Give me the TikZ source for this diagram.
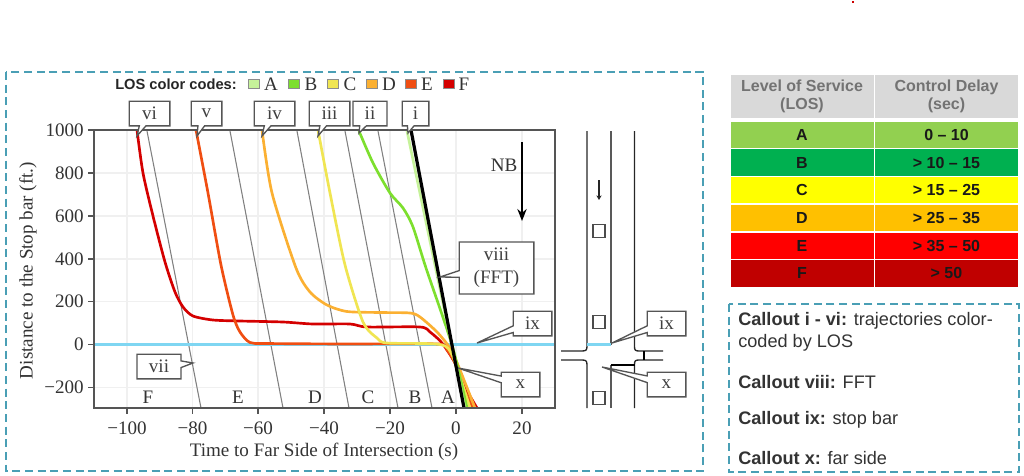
\documentclass[tikz,border=0pt]{standalone}
\usepackage{fontspec}
\usepackage{xcolor}
\setmainfont{Liberation Serif}
\setsansfont{Liberation Sans}
\usetikzlibrary{shapes.callouts,arrows.meta}

\definecolor{frameblue}{HTML}{4A9FB5}
\definecolor{stopblue}{HTML}{7FD6F2}
\definecolor{axisgray}{HTML}{555555}
\definecolor{losA}{HTML}{C6F29A}
\definecolor{losB}{HTML}{7DDF2E}
\definecolor{losC}{HTML}{F0E552}
\definecolor{losD}{HTML}{FBB032}
\definecolor{losE}{HTML}{F04E12}
\definecolor{losF}{HTML}{D40000}

\tikzset{
  framebox/.style={draw=frameblue,line width=1.2pt,dash pattern=on 6pt off 3.5pt},
  calloutbox/.style={rectangle callout,draw=axisgray,fill=white,line width=1pt,inner sep=0pt,
    text=black!75,font=\fontsize{14.3}{17}\selectfont,align=center,callout pointer width=5pt},
  smallbox/.style={calloutbox,minimum height=18.5pt},
  traj/.style={line width=2pt,line join=round},
  zonelabel/.style={text=black!80,font=\fontsize{14.3}{17}\selectfont},
  ticklabel/.style={text=black!80,font=\fontsize{14.3}{17}\selectfont},
  swatch/.style={draw=black!45,line width=0.7pt,minimum width=8.2pt,minimum height=6.8pt,inner sep=0pt},
  cellbox/.style={draw=white,line width=0.6pt,inner sep=0pt,font=\sffamily\bfseries\fontsize{12}{14}\selectfont,
    minimum height=20.8pt,text=black!90,align=center},
  notetext/.style={anchor=west,inner sep=0pt,font=\sffamily\fontsize{13.6}{16}\selectfont,text=black!80},
  roadline/.style={black!85,line width=1pt},
}

\begin{document}
\begin{tikzpicture}[x=0.75pt,y=-0.75pt]
\useasboundingbox (0,0) rectangle (1024,475);
\fill[red!80!black] (851.5,0.5) rectangle (853.5,3);

% dashed frames
\draw[framebox] (6,72) rectangle (703,471);
\draw[framebox] (729,304) rectangle (1019,472);

% grid
\foreach \x in {127,192.5,258,324,390,456,522}
  \draw[black!6,line width=0.8pt] (\x,130) -- (\x,408);
\foreach \y in {173,216,259,301.7,344.5,387.5}
  \draw[black!6,line width=0.8pt] (94,\y) -- (555,\y);

% zone boundaries
\draw[black!50,line width=0.8pt] (147,131) -- (201,408);
\draw[black!50,line width=0.8pt] (230,131) -- (283,408);
\draw[black!50,line width=0.8pt] (297,131) -- (349,408);
\draw[black!50,line width=0.8pt] (345,131) -- (398,408);
\draw[black!50,line width=0.8pt] (378,131) -- (432,408);

% stop bar in plot
\draw[stopblue,line width=2pt] (94,344.5) -- (555,344.5);

% trajectories
\draw[traj,losF] plot[smooth,tension=0.45] coordinates {(137,130) (143,173) (153,216) (165,262) (175,292) (183,307) (193,316) (213,320) (240,321) (283,322) (313,324) (350,324) (367,327) (420,327) (430,332) (442,343) (455,363) (465,387) (477,408)};
\draw[traj,losE] plot[smooth,tension=0.45] coordinates {(196,130) (208,193) (221,265) (233,315) (240,332) (250,342.5) (267,343.5) (350,344) (438,344) (447,350) (455,363) (463,387) (473,408)};
\draw[traj,losD] plot[smooth,tension=0.45] coordinates {(262,130) (272,193) (296,268) (310,292) (327,305) (347,311.5) (380,312.5) (410,313) (420,317) (437,332) (450,348) (458,365) (475,408)};
\draw[traj,losC] plot[smooth,tension=0.45] coordinates {(318,130) (330,193) (345,265) (363,322) (377,338) (387,343) (440,344.5) (453,357) (470,408)};
\draw[traj,losB] plot[smooth,tension=0.45] coordinates {(359,131) (373,163) (390,193) (403,208) (413,227) (426,268) (452,345) (467,408)};
\draw[traj,losA] (407,131) -- (436,270) -- (465,408);
\draw[black,line width=2.4pt] (411,130) -- (464,408);

% axes
\draw[axisgray,line width=1.2pt] (94,130) rectangle (555,408);
\foreach \x/\t in {127/−100,192.5/−80,258/−60,324/−40,390/−20,456/0,522/20} {
  \draw[axisgray,line width=1pt] (\x,408) -- (\x,414);
  \node[ticklabel] (xt\x) at (\x,428) {\t};
}
\foreach \y/\t in {130/1000,173/800,216/600,259/400,301.7/200,344.5/0,387.5/−200} {
  \draw[axisgray,line width=1pt] (88,\y) -- (94,\y);
  \node[ticklabel,anchor=east,inner sep=0pt] (yt\y) at (84,\y) {\t};
}
\node[ticklabel] (xlabel) at (324,452) {Time to Far Side of Intersection (s)};
\node[ticklabel,rotate=90] (ylabel) at (28,270.5) {Distance to the Stop bar (ft.)};

% zones
\node[zonelabel] (zoneF) at (148,397) {F};
\node[zonelabel] (zoneE) at (238,397) {E};
\node[zonelabel] (zoneD) at (315,397) {D};
\node[zonelabel] (zoneC) at (368,397) {C};
\node[zonelabel] (zoneB) at (415,397) {B};
\node[zonelabel] (zoneA) at (448,397) {A};

% direction
\node[ticklabel] (nb) at (504,165) {NB};
\draw[-{Stealth[length=9pt,width=7pt]},black,line width=1.2pt] (522,142) -- (522,221);

% legend
\node[anchor=west,inner sep=0pt,font=\sffamily\bfseries\fontsize{11}{13}\selectfont,text=black!85] (legend) at (115,84) {LOS color codes:};
\foreach \c/\sx/\tx/\t in {losA/253.5/271/A,losB/294/311/B,losC/333/350/C,losD/371.5/389/D,losE/410.5/427/E,losF/449/464/F} {
  \node[swatch,fill=\c] (sw\t) at (\sx,84) {};
  \node[ticklabel] (lg\t) at (\tx,84) {\t};
}

% road sketch
\draw[roadline] (587,131) -- (587,346) .. controls (587,350) and (586,351) .. (582,351) -- (561,351);
\draw[roadline] (561,360) -- (582,360) .. controls (586,360) and (587,361) .. (587,365) -- (587,408);
\draw[black!65,line width=0.9pt] (611,131) -- (611,344.5);
\draw[black!65,line width=0.9pt] (611,365) -- (611,408);
\draw[roadline] (634.5,131) -- (634.5,346) .. controls (634.5,350) and (635,351) .. (639,351) -- (663,351);
\draw[roadline] (663,360) -- (639,360) .. controls (635,360) and (634.5,361) .. (634.5,365) -- (634.5,408);
\draw[black,line width=1.3pt] (611,365) -- (634.5,365);
\draw[black,line width=1.5pt] (644,351) -- (644,360);
\draw[stopblue,line width=2pt] (587,344.5) -- (611,344.5);
\draw[-{Stealth[length=3.5pt,width=4pt]},black!85,line width=0.9pt] (599,180) -- (599,200);
\foreach \y in {231,322,398}
  \draw[black!70,line width=0.8pt] (593,\y-6.5) rectangle (605,\y+6.5);

% callouts
\node[smallbox,minimum width=30.5pt,callout absolute pointer={(137,136)}] (callvi) at (149.5,113.5) {vi};
\node[smallbox,minimum width=23pt,callout absolute pointer={(197,136)}] (callv) at (206.5,113.5) {v};
\node[smallbox,minimum width=30.5pt,callout absolute pointer={(262,136)}] (calliv) at (274.5,113.5) {iv};
\node[smallbox,minimum width=30.5pt,callout absolute pointer={(318,136)}] (calliii) at (329.5,113.5) {iii};
\node[smallbox,minimum width=25.5pt,callout absolute pointer={(359,133)}] (callii) at (370,113.5) {ii};
\node[smallbox,minimum width=20pt,callout absolute pointer={(408,133)}] (calli) at (415.5,113.5) {i};
\node[smallbox,minimum width=33pt,callout absolute pointer={(193,363)}] (callvii) at (159,366.5) {vii};
\node[calloutbox,minimum width=56pt,minimum height=39pt,callout absolute pointer={(440,277)}] (callviii) at (496.5,268) {viii\\(FFT)};
\node[smallbox,minimum width=29pt,callout absolute pointer={(477,343)}] (callix) at (532.5,323.5) {ix};
\node[smallbox,minimum width=29pt,callout absolute pointer={(458,368)}] (callx) at (520.5,384.5) {x};
\node[smallbox,minimum width=29pt,callout absolute pointer={(612,343)}] (roadix) at (666.5,323.5) {ix};
\node[smallbox,minimum width=29pt,callout absolute pointer={(602,367)}] (roadx) at (666.5,384.5) {x};

% LOS table
\node[cellbox,fill=black!15,minimum width=108pt,minimum height=33.5pt,text=black!55] (headlos) at (802,96.5) {Level of Service\\(LOS)};
\node[cellbox,fill=black!15,minimum width=108.5pt,minimum height=33.5pt,text=black!55] (headdelay) at (946.5,96.5) {Control Delay\\(sec)};
\foreach \y/\c/\l/\d in {135.2/92D050/A/0 – 10,162.5/00B050/B/> 10 – 15,190/FFFF00/C/> 15 – 25,218/FFC000/D/> 25 – 35,245.8/FF0000/E/> 35 – 50,273.2/C00000/F/> 50} {
  \definecolor{rowcol}{HTML}{\c}
  \node[cellbox,fill=rowcol,minimum width=108pt] (row\l) at (802,\y) {\l};
  \node[cellbox,fill=rowcol,minimum width=108.5pt] (delay\l) at (946.5,\y) {\d};
}

% notes
\node[notetext] (note1) at (738,320.5) {\textbf{Callout i - vi:} trajectories color-};
\node[notetext] (note2) at (738,343) {coded by LOS};
\node[notetext] (note3) at (738,382) {\textbf{Callout viii:} FFT};
\node[notetext] (note4) at (738,420) {\textbf{Callout ix:} stop bar};
\node[notetext] (note5) at (738,458) {\textbf{Callout x:} far side};
\end{tikzpicture}
\end{document}
